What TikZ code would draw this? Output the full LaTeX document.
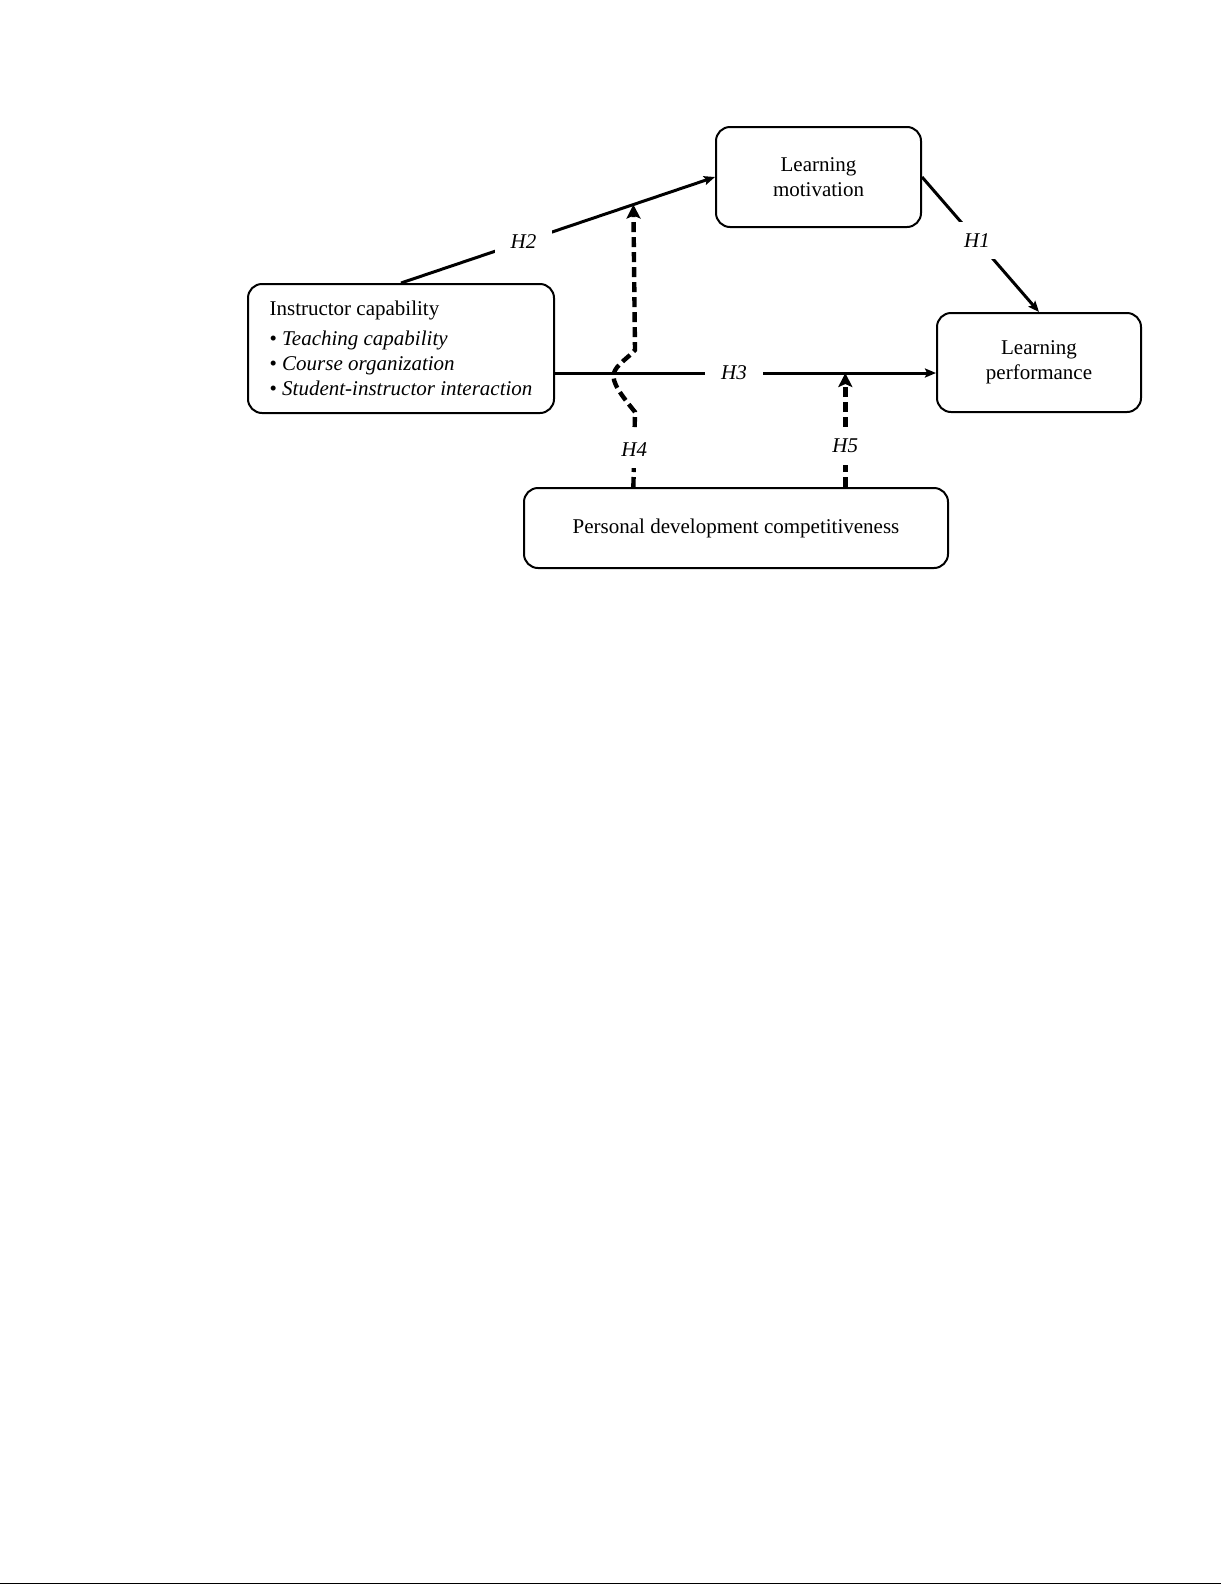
\documentclass[tikz,border=0pt]{standalone}
\usepackage{fontspec}
\setmainfont{Liberation Serif}
\usetikzlibrary{arrows.meta,positioning}

\begin{document}
\begin{tikzpicture}[
    x=0.5pt, y=-0.5pt,
    construct/.style={rectangle, rounded corners=7pt, draw, line width=1pt, font=\fontsize{10.5}{12.5}\selectfont, align=center},
    arrow/.style={-{Stealth[length=5.5pt,width=4.5pt,inset=1pt]}, line width=1.5pt},
    modarrow/.style={-{Stealth[length=7pt,width=7pt,inset=1.5pt]}, line width=2.2pt, dash pattern=on 5pt off 2.5pt},
    hyp/.style={fill=white, inner xsep=8pt, inner ysep=6pt, font=\fontsize{10.5}{12.5}\selectfont\itshape}
]
\useasboundingbox (0,0) rectangle (1225,1585);

\node[construct, minimum width=102.5pt, minimum height=50pt] (motiv) at (818.5,177) {Learning\\motivation};
\node[construct, minimum width=102pt, minimum height=49.5pt] (perf) at (1039,362.5) {Learning\\performance};
\node[construct, minimum width=153pt, minimum height=64.5pt, align=left] (instr) at (401,348.5) {Instructor capability\\[2.5pt]
  • \textit{Teaching capability}\\
  • \textit{Course organization}\\
  • \textit{Student-instructor interaction}};
\node[construct, minimum width=212pt, minimum height=40pt] (pdc) at (736,528) {Personal development competitiveness};

\draw[arrow] (motiv.east) -- node[hyp, pos=0.47] {H1} (perf.north);
\draw[arrow] (instr.north) -- node[hyp, pos=0.39] {H2} coordinate[pos=0.74] (h4tip) (motiv.west);
\draw[arrow] ([yshift=-12.25pt]instr.east) coordinate (h3start) -- node[hyp, pos=0.47] {H3} coordinate[pos=0.762] (h5tip) (h3start -| perf.west);

\draw[modarrow] (pdc.north -| h4tip) -- node[hyp, pos=0.5] {H4} (635,412)
  .. controls (622,396) and (611,382) .. (614,373)
  .. controls (616,365) and (628,358) .. (635,350) -- (h4tip);
\draw[modarrow] (pdc.north -| h5tip) -- node[hyp, pos=0.36] {H5} (h5tip);

\draw[line width=0.8pt] (0,1583.5) -- (1221,1583.5);

\end{tikzpicture}
\end{document}
